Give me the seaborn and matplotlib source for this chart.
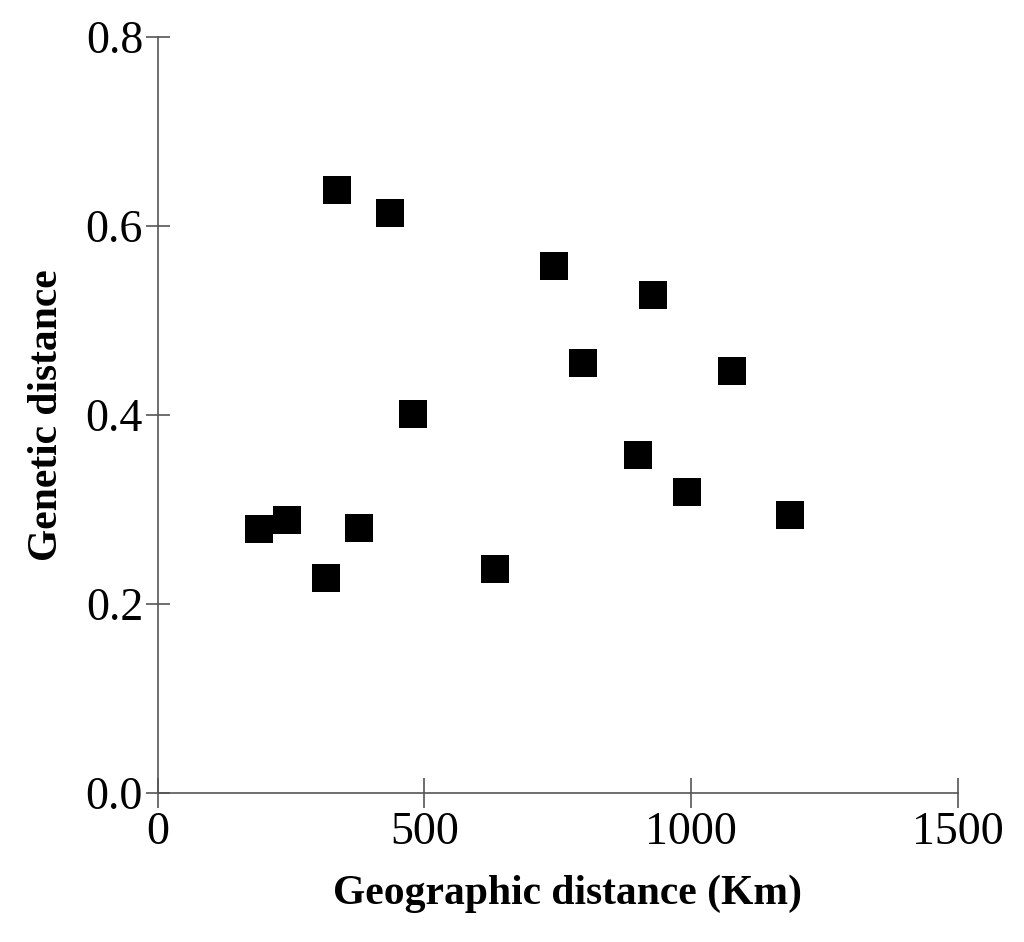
import matplotlib
matplotlib.use("Agg")
import matplotlib.pyplot as plt
import seaborn as sns
import pandas as pd

geo_km = [190, 242, 316, 336, 378, 435, 478, 632, 742, 798, 928, 900, 992, 1076, 1185]
gen_dist = [0.279, 0.289, 0.228, 0.638, 0.280, 0.614, 0.401, 0.237, 0.558, 0.455, 0.527, 0.358, 0.319, 0.446, 0.294]
x_ticks = [0, 500, 1000, 1500]
y_ticks = [0.0, 0.2, 0.4, 0.6, 0.8]

sns.set_theme(style="ticks")
plt.rcParams['font.family'] = ['Liberation Serif', 'DejaVu Serif']

df = pd.DataFrame({"geo": geo_km, "gen": gen_dist})

fig = plt.figure(figsize=(10.24, 9.42), dpi=100)
ax = fig.add_axes([0.154, 0.158, 0.7815, 0.803])
sns.scatterplot(data=df, x="geo", y="gen", marker="s", s=378, color="black",
                linewidth=0, ax=ax)

ax.set_xlim(0, 1500)
ax.set_ylim(0, 0.8)
ax.set_xticks(x_ticks)
ax.set_xticklabels([str(v) for v in x_ticks])
ax.set_yticks(y_ticks)
ax.set_yticklabels([f"{v:.1f}" for v in y_ticks])

for s in ["top", "right"]:
    ax.spines[s].set_visible(False)
for s in ["left", "bottom"]:
    ax.spines[s].set_color("#555555")
    ax.spines[s].set_linewidth(1.2)

ax.tick_params(axis="x", direction="inout", length=22, width=1.2, color="#555555",
               labelsize=33, pad=2, labelcolor="black")
ax.tick_params(axis="y", direction="inout", length=17, width=1.2, color="#555555",
               labelsize=33, pad=2, labelcolor="black")

ax.set_xlabel("Geographic distance (Km)", fontsize=30, fontweight="bold",
              labelpad=14, color="black")
ax.set_ylabel("Genetic distance", fontsize=30, fontweight="bold",
              labelpad=14, color="black")
ax.xaxis.set_label_coords(0.512, -0.108)

fig.savefig("out.png", dpi=100)
